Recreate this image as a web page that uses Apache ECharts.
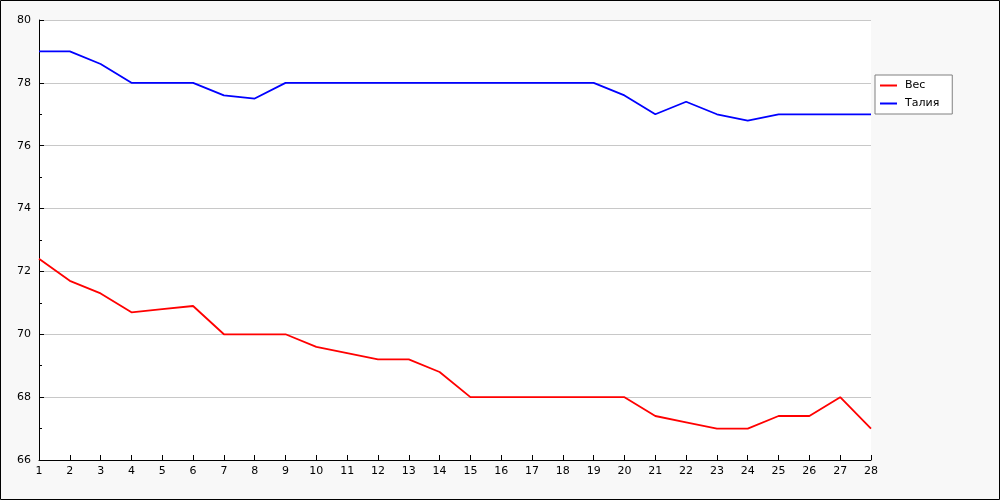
<!DOCTYPE html>
<html>
<head>
<meta charset="utf-8">
<script src="https://cdn.jsdelivr.net/npm/echarts@6/dist/echarts.min.js"></script>
<style>
  html, body { margin: 0; padding: 0; background: #f8f8f8; }
  #chart { width: 1000px; height: 500px; }
</style>
</head>
<body>
<div id="chart"></div>
<script>
// дни
const days = [1, 2, 3, 4, 5, 6, 7, 8, 9, 10, 11, 12, 13, 14, 15, 16, 17, 18, 19, 20, 21, 22, 23, 24, 25, 26, 27, 28];
// вес, кг
const weight = [72.4, 71.7, 71.3, 70.7, 70.8, 70.9, 70.0, 70.0, 70.0, 69.6, 69.4, 69.2, 69.2, 68.8,
  68.0, 68.0, 68.0, 68.0, 68.0, 68.0, 67.4, 67.2, 67.0, 67.0, 67.4, 67.4, 68.0, 67.0];
// талия, см
const waist = [79.0, 79.0, 78.6, 78.0, 78.0, 78.0, 77.6, 77.5, 78.0, 78.0, 78.0, 78.0, 78.0, 78.0,
  78.0, 78.0, 78.0, 78.0, 78.0, 77.6, 77.0, 77.4, 77.0, 76.8, 77.0, 77.0, 77.0, 77.0];
const seriesNames = ['Вес', 'Талия'];

const chart = echarts.init(document.getElementById('chart'));

const pairs = (ys) => days.map((d, i) => [d, ys[i]]);
const labelStyle = { color: '#000', fontSize: 11, fontFamily: 'DejaVu Sans' };

chart.setOption({
  backgroundColor: '#f8f8f8',
  animation: false,
  graphic: [{
    type: 'rect',
    shape: { x: 0.5, y: 0.5, width: 999, height: 499 },
    style: { fill: 'none', stroke: '#000', lineWidth: 1 },
    z: 100
  }],
  grid: {
    left: 39, right: 129, top: 20, bottom: 40,
    show: true, backgroundColor: '#fff', borderWidth: 0
  },
  legend: {
    orient: 'vertical',
    left: 875, top: 75,
    backgroundColor: '#fff',
    borderColor: '#808080',
    borderWidth: 1,
    borderRadius: 0,
    padding: [5, 13, 5, 5],
    itemGap: 7,
    itemWidth: 17,
    itemHeight: 2,
    icon: 'rect',
    textStyle: Object.assign({ padding: [0, 0, 0, 3] }, labelStyle),
    data: seriesNames
  },
  xAxis: {
    type: 'value',
    min: 1, max: 28, interval: 1,
    axisLine: { show: true, lineStyle: { color: '#000' } },
    axisTick: { show: true, inside: true, length: 5, lineStyle: { color: '#000' } },
    axisLabel: Object.assign({ margin: 6 }, labelStyle),
    splitLine: { show: false }
  },
  yAxis: {
    type: 'value',
    min: 66, max: 80, interval: 2,
    axisLine: { show: true, lineStyle: { color: '#000' } },
    axisTick: { show: true, inside: true, length: 5, lineStyle: { color: '#000' } },
    minorTick: { show: true, splitNumber: 2, length: 3, lineStyle: { color: '#000' } },
    axisLabel: Object.assign({ margin: 8 }, labelStyle),
    splitLine: { show: true, lineStyle: { color: '#c8c8c8' } }
  },
  series: [
    {
      name: seriesNames[0], type: 'line', data: pairs(weight),
      symbol: 'none', lineStyle: { color: '#ff0000', width: 1.8 }, itemStyle: { color: '#ff0000' }
    },
    {
      name: seriesNames[1], type: 'line', data: pairs(waist),
      symbol: 'none', lineStyle: { color: '#0000ff', width: 1.8 }, itemStyle: { color: '#0000ff' }
    }
  ]
});
</script>
</body>
</html>
